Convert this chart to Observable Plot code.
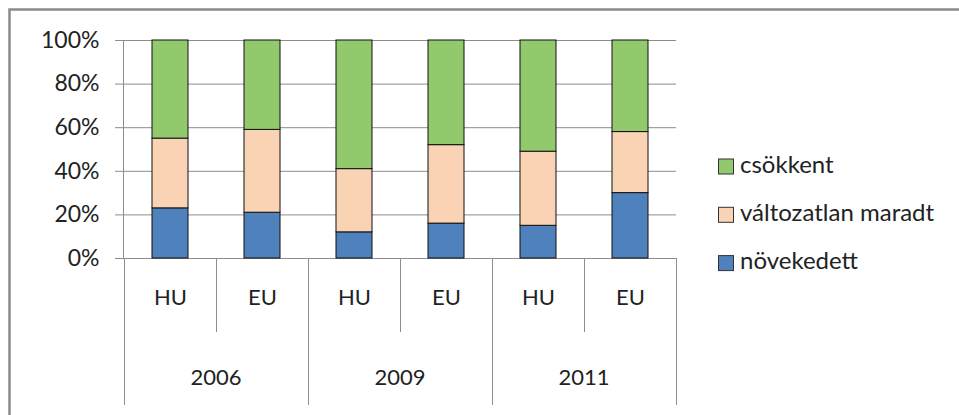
<!DOCTYPE html>
<html>
<head>
<meta charset="utf-8">
<script src="https://cdn.jsdelivr.net/npm/d3@7"></script>
<script src="https://cdn.jsdelivr.net/npm/@observablehq/plot@0.6"></script>
<style>
  html, body { margin: 0; padding: 0; background: #fff; }
  #chart { width: 959px; height: 415px; }
</style>
</head>
<body>
<div id="chart"></div>
<script>
// ---- data ----
const years = ["2006", "2009", "2011"];
const groups = ["2006", "2006", "2009", "2009", "2011", "2011"];
const countries = ["HU", "EU", "HU", "EU", "HU", "EU"];
const seriesNames = ["növekedett", "változatlan maradt", "csökkent"];
const novekedett = [23, 21, 12, 16, 15, 30];
const valtozatlan = [32, 38, 29, 36, 34, 28];
const csokkent = [45, 41, 59, 48, 51, 42];
const yTicks = [0, 20, 40, 60, 80, 100];
const colors = ["#4F81BD", "#FAD2B4", "#92C96C"];

const keys = groups.map((g, i) => g + "|" + countries[i]);
const seriesValues = [novekedett, valtozatlan, csokkent];
const data = [];
keys.forEach((k, i) => {
  seriesNames.forEach((s, j) => data.push({key: k, series: s, value: seriesValues[j][i]}));
});

const FONT = "Lato, 'Open Sans', sans-serif";
const gridColor = "#8c8c8c";
const textColor = "#222";

const plot = Plot.plot({
  width: 959,
  height: 415,
  marginLeft: 123,
  marginRight: 283,
  marginTop: 40,
  marginBottom: 157,
  style: {fontFamily: FONT, fontSize: "22px", color: textColor, background: "white"},
  x: {domain: keys, padding: 0, label: null},
  y: {domain: [0, 100], label: null},
  color: {domain: seriesNames, range: colors},
  marks: [
    Plot.gridY(yTicks, {stroke: gridColor, strokeOpacity: 1, strokeWidth: 1}),
    Plot.frame({anchor: "left", stroke: gridColor}),
    Plot.barY(data, {x: "key", y: "value", fill: "series", stroke: "#111", strokeWidth: 1, insetLeft: 28, insetRight: 28}),
    Plot.axisY(yTicks, {tickSize: 8, tickPadding: 16, stroke: gridColor, tickFormat: d => d + "%", fontSize: 23, fill: textColor}),
    Plot.axisX({tickSize: 0, tickPadding: 31, tickFormat: k => k.split("|")[1], fontSize: 22, fill: textColor})
  ]
});

document.getElementById("chart").appendChild(plot);

// ---- decorations from scales ----
const svg = d3.select(plot);
const sx = plot.scale("x");
const sy = plot.scale("y");
const bw = sx.bandwidth;
const y0 = sy.apply(0);

// category separators below the axis
const sep = svg.append("g").attr("stroke", gridColor).attr("stroke-width", 1);
for (let i = 0; i <= keys.length; i++) {
  const x = i < keys.length ? sx.apply(keys[i]) : sx.apply(keys[keys.length - 1]) + bw;
  const long = i % 2 === 0;
  sep.append("line")
    .attr("x1", x + 0.5).attr("x2", x + 0.5)
    .attr("y1", y0).attr("y2", y0 + (long ? 147 : 74));
}

// year labels
const yl = svg.append("g").attr("font-family", FONT).attr("font-size", 22).attr("fill", textColor).attr("text-anchor", "middle");
years.forEach(yr => {
  const x = sx.apply(yr + "|HU") + bw;
  yl.append("text").attr("x", x).attr("y", y0 + 121).attr("dominant-baseline", "middle").text(yr);
});

// legend
const lg = svg.append("g").attr("font-family", FONT).attr("font-size", 24).attr("fill", textColor).attr("text-anchor", "start");
const legendOrder = [2, 1, 0];
legendOrder.forEach((j, r) => {
  const cy = 166.5 + r * 48.3;
  lg.append("rect").attr("x", 718.5).attr("y", cy - 7.5).attr("width", 15).attr("height", 15)
    .attr("fill", colors[j]).attr("stroke", "#333").attr("stroke-width", 1);
  lg.append("text").attr("x", 740).attr("y", cy).attr("dominant-baseline", "middle").text(seriesNames[j]);
});

// outer border
svg.append("rect").attr("x", 9.5).attr("y", 9.5).attr("width", 980).attr("height", 430)
  .attr("fill", "none").attr("stroke", "#8a8a8a").attr("stroke-width", 2.5);
</script>
</body>
</html>
